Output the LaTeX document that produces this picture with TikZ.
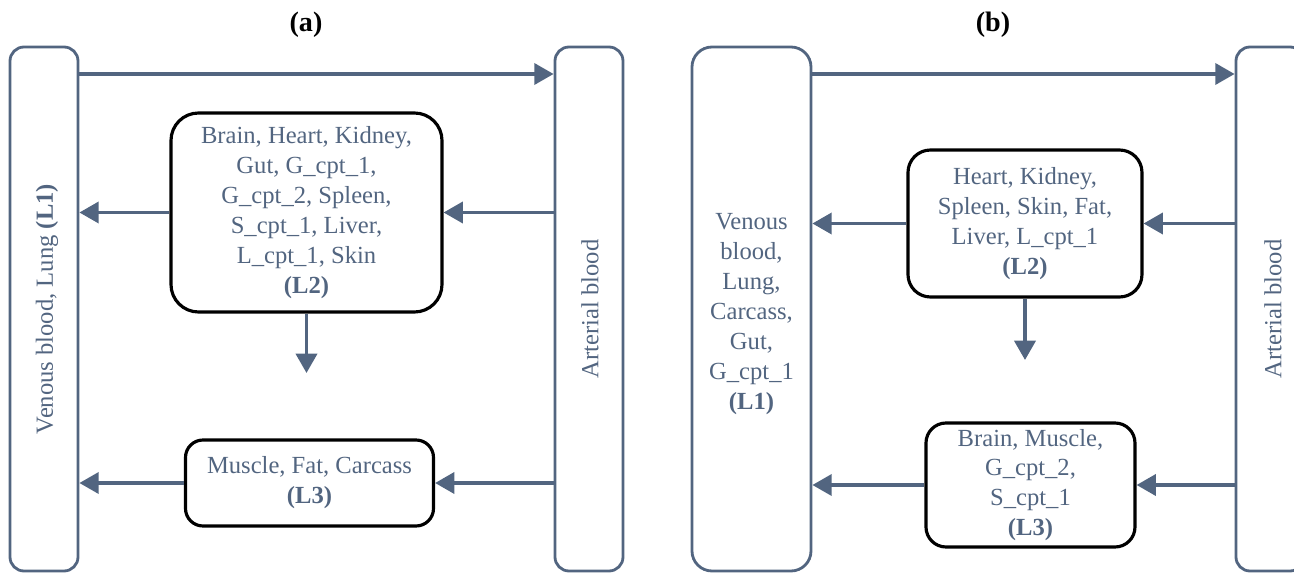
\documentclass[tikz,border=0pt]{standalone}
\usepackage{fontspec}
\setmainfont{Liberation Serif}
\usepackage{xcolor}
\usetikzlibrary{arrows.meta}
\usetikzlibrary{calc}
\usetikzlibrary{positioning}

\definecolor{slate}{RGB}{82,101,128}

\tikzset{
  bar/.style={draw=slate, line width=1.6pt, rounded corners=0.28cm, minimum width=1.36cm, minimum height=10.48cm, inner sep=0pt},
  organbox/.style={draw=black, line width=1.8pt, align=center, text=slate, inner sep=0pt},
  bartext/.style={text=slate, rotate=90},
  flow/.style={draw=slate, line width=2pt, -{Triangle[length=11pt,width=12pt]}},
  paneltitle/.style={font=\fontsize{16}{19}\selectfont\bfseries}
}

\begin{document}
\begin{tikzpicture}[font=\fontsize{14}{17}\selectfont]
\useasboundingbox (0,0) rectangle (25.88,11.48);
\clip (0,0) rectangle (25.88,11.48);

% Panel (a)
\node[paneltitle] (titleA) at (6.12,10.98) {(a)};
% Blood bars (nodes)
\node[bar] (venA) at (0.88,5.30) {};
\node[bar] (artA) at (11.78,5.30) {};
\node[bartext] (venAtext) at (0.94,5.30) {Venous blood, Lung \textbf{(L1)}};
\node[bartext] (artAtext) at (11.80,5.30) {Arterial blood};
% Tissue groups (nodes)
\node[organbox, rounded corners=0.55cm, minimum width=5.42cm, minimum height=3.98cm] (L2a) at (6.13,7.23)
  {Brain, Heart, Kidney,\\Gut, G\_cpt\_1,\\G\_cpt\_2, Spleen,\\S\_cpt\_1, Liver,\\L\_cpt\_1, Skin\\\textbf{(L2)}};
\node[organbox, rounded corners=0.35cm, minimum width=4.96cm, minimum height=1.72cm] (L3a) at (6.19,1.82)
  {Muscle, Fat, Carcass\\\textbf{(L3)}};
\coordinate (topA) at (1.56,10.0);
\coordinate (downA) at (6.13,4.02);
% Flows
\draw[flow] (topA) -- (topA -| artA.west);
\draw[flow] (L2a.east -| artA.west) -- (L2a.east);
\draw[flow] (L2a.west) -- (L2a.west -| venA.east);
\draw[flow] (L2a.south) -- (downA);
\draw[flow] (L3a.east -| artA.west) -- (L3a.east);
\draw[flow] (L3a.west) -- (L3a.west -| venA.east);

% Panel (b)
\node[paneltitle] (titleB) at (19.86,10.98) {(b)};
% Blood bars (nodes)
\node[bar, minimum width=2.38cm, rounded corners=0.4cm] (venB) at (15.03,5.30) {};
\node[bar] (artB) at (25.40,5.30) {};
\node[text=slate, align=center] (venBtext) at (15.03,5.20)
  {Venous\\blood,\\Lung,\\Carcass,\\Gut,\\G\_cpt\_1\\\textbf{(L1)}};
\node[bartext] (artBtext) at (25.46,5.30) {Arterial blood};
% Tissue groups (nodes)
\node[organbox, rounded corners=0.45cm, minimum width=4.68cm, minimum height=2.94cm] (L2b) at (20.50,7.01)
  {Heart, Kidney,\\Spleen, Skin, Fat,\\Liver, L\_cpt\_1\\\textbf{(L2)}};
\node[organbox, rounded corners=0.4cm, minimum width=4.18cm, minimum height=2.48cm] (L3b) at (20.61,1.78)
  {Brain, Muscle,\\G\_cpt\_2,\\S\_cpt\_1\\\textbf{(L3)}};
\coordinate (topB) at (16.22,10.0);
\coordinate (downB) at (20.50,4.28);
% Flows
\draw[flow] (topB) -- (topB -| artB.west);
\draw[flow] (L2b.east -| artB.west) -- (L2b.east);
\draw[flow] (L2b.west) -- (L2b.west -| venB.east);
\draw[flow] (L2b.south) -- (downB);
\draw[flow] (L3b.east -| artB.west) -- (L3b.east);
\draw[flow] (L3b.west) -- (L3b.west -| venB.east);
\end{tikzpicture}
\end{document}
